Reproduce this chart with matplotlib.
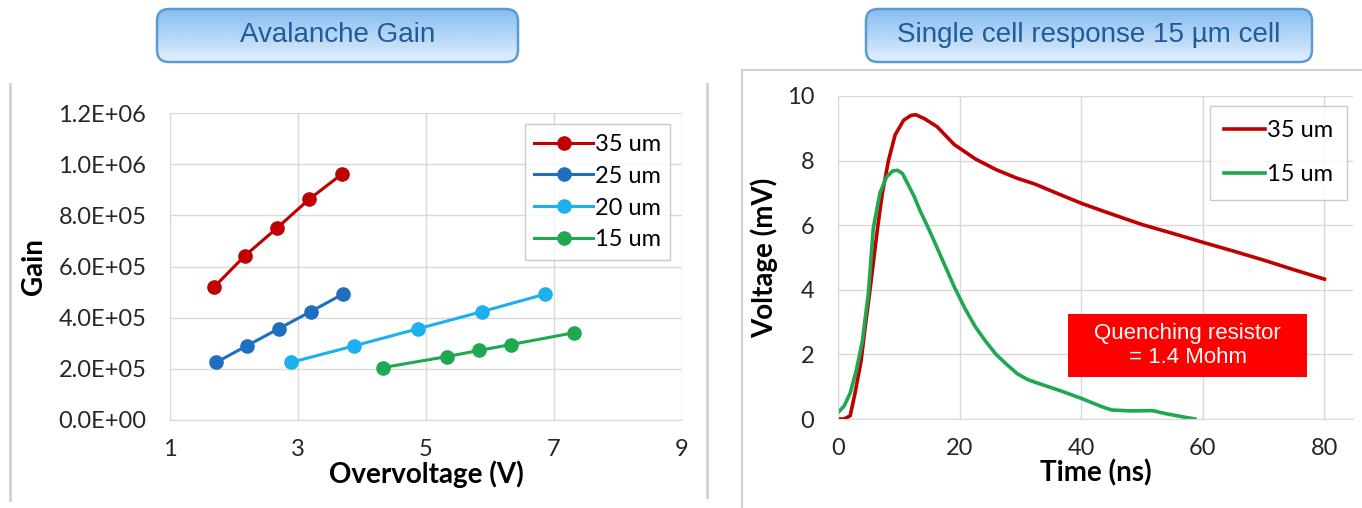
import numpy as np
import matplotlib
matplotlib.use("Agg")
import matplotlib.pyplot as plt
from matplotlib.patches import FancyBboxPatch, Rectangle
from matplotlib.lines import Line2D

plt.rcParams['font.family'] = ['Lato', 'DejaVu Sans']

# avalanche gain data
labels_gain = ["35 um", "25 um", "20 um", "15 um"]
colors_gain = ["#C00000", "#1F6FBF", "#1CB0EE", "#1FA84F"]
v35 = [1.69, 2.17, 2.67, 3.17, 3.69]
g35 = [5.2e5, 6.42e5, 7.5e5, 8.62e5, 9.62e5]
v25 = [1.72, 2.2, 2.7, 3.2, 3.7]
g25 = [2.25e5, 2.9e5, 3.57e5, 4.24e5, 4.92e5]
v20 = [2.89, 3.88, 4.88, 5.88, 6.86]
g20 = [2.25e5, 2.9e5, 3.57e5, 4.24e5, 4.92e5]
v15 = [4.33, 5.33, 5.83, 6.33, 7.31]
g15 = [2.05e5, 2.48e5, 2.72e5, 2.95e5, 3.41e5]
gain_ticks = ["0.0E+00", "2.0E+05", "4.0E+05", "6.0E+05", "8.0E+05", "1.0E+06", "1.2E+06"]

# single cell response
t35 = [0, 1, 2, 2.8, 3.8, 4.5, 5.2, 6.5, 7.3, 8.3, 9.4, 10.8, 12.0, 12.8, 14.2, 16.3,
       19.1, 22.6, 26, 29.5, 32.3, 36.5, 40, 43.4, 46, 50, 55, 60, 65, 70, 75, 80]
u35 = [0, 0, 0.1, 0.8, 1.8, 2.9, 3.9, 5.9, 7.0, 8.0, 8.8, 9.25, 9.4, 9.42, 9.3, 9.05,
       8.5, 8.05, 7.72, 7.45, 7.28, 6.95, 6.68, 6.45, 6.28, 6.02, 5.75, 5.47, 5.2, 4.92, 4.62, 4.33]
t15 = [0, 1, 2, 3, 4, 5, 5.8, 6.9, 8, 9, 9.8, 10.6, 11.5, 12.5, 13.5, 15, 16.3, 17.7, 19.1,
       20.8, 22.6, 24.3, 26, 27.8, 29.5, 31.2, 33, 36.5, 40, 43.4, 45, 48, 51.7, 53.8, 56.6, 58.7]
u15 = [0.2, 0.4, 0.8, 1.5, 2.4, 3.9, 5.9, 7.0, 7.5, 7.68, 7.7, 7.6, 7.27, 6.9, 6.45, 5.85, 5.3,
       4.7, 4.1, 3.45, 2.85, 2.4, 2.0, 1.68, 1.4, 1.22, 1.1, 0.88, 0.64, 0.38, 0.28, 0.25, 0.26,
       0.17, 0.07, 0.0]

W, H = 1362, 508
fig = plt.figure(figsize=(W / 100, H / 100), dpi=100)

def fx(px):
    return px / W

def fy(py):
    return 1 - py / H

grid_c = "#D9D9D9"
tick_fs = 17
lab_fs = 20

# frame lines like the slide
fig.add_artist(Line2D([fx(10), fx(10)], [fy(84), fy(500)], color="#D0D0D0", lw=2))
fig.add_artist(Line2D([fx(707), fx(707)], [fy(84), fy(497)], color="#D0D0D0", lw=2))
fig.add_artist(Rectangle((fx(742), fy(512)), fx(640), fy(70) - fy(512), fill=False,
                         edgecolor="#D0D0D0", lw=1.5))

def title_box(x0, x1, y0, y1, text):
    ax = fig.add_axes([fx(x0 - 3), fy(y1 + 3), fx(x1 - x0 + 6), fy(y0 - 3) - fy(y1 + 3)])
    ax.axis("off")
    grad = np.linspace(0, 1, 100).reshape(-1, 1)
    cmap = matplotlib.colors.LinearSegmentedColormap.from_list("b", ["#86BDF0", "#E2EFFC"])
    box = FancyBboxPatch((x0, y0), x1 - x0, y1 - y0, boxstyle="round,pad=0,rounding_size=12",
                         facecolor="none", edgecolor="#5B9BD5", lw=1.8)
    im = ax.imshow(grad, extent=[x0, x1, y1, y0], cmap=cmap, aspect="auto")
    ax.add_patch(box)
    im.set_clip_path(box)
    ax.set_xlim(x0 - 3, x1 + 3)
    ax.set_ylim(y1 + 3, y0 - 3)
    ax.text((x0 + x1) / 2, (y0 + y1) / 2, text, ha="center", va="center", fontsize=20,
            color="#1F5C99", family="Liberation Sans")

title_box(157, 518, 9, 62, "Avalanche Gain")
title_box(866, 1312, 9, 62, "Single cell response 15 µm cell")

def style(ax):
    ax.grid(True, color=grid_c, lw=1)
    ax.set_axisbelow(True)
    for s in ax.spines.values():
        s.set_visible(False)
    ax.spines["bottom"].set_visible(True)
    ax.spines["bottom"].set_color(grid_c)
    ax.spines["left"].set_visible(True)
    ax.spines["left"].set_color(grid_c)
    ax.tick_params(length=0, labelsize=tick_fs, colors="#262626")
    ax.tick_params(axis="y", pad=17)
    ax.tick_params(axis="x", pad=14)

# left: gain vs overvoltage
ax1 = fig.add_axes([fx(170), fy(420), fx(682 - 170), fy(113) - fy(420)])
for v, g, lab, c in zip([v35, v25, v20, v15], [g35, g25, g20, g15], labels_gain, colors_gain):
    ax1.plot(v, g, "-o", color=c, lw=2.2, ms=9.5, label=lab)
ax1.set_xlim(1, 9)
ax1.set_ylim(0, 1.2e6)
ax1.set_xticks([1, 3, 5, 7, 9])
ax1.set_yticks(np.linspace(0, 1.2e6, len(gain_ticks)))
ax1.set_yticklabels(gain_ticks)
style(ax1)
ax1.set_xlabel("Overvoltage (V)", fontsize=lab_fs, fontweight="bold", labelpad=0)
ax1.set_ylabel("Gain", fontsize=lab_fs, fontweight="bold", labelpad=8)
leg1 = ax1.legend(loc="upper right", bbox_to_anchor=(0.977, 0.963), fontsize=17, frameon=True,
                  fancybox=False, edgecolor="#BFBFBF", handlelength=2.5, handletextpad=0.05,
                  labelspacing=0.46, borderpad=0.4, borderaxespad=0)
leg1.get_frame().set_linewidth(1)

# right: single cell response
ax2 = fig.add_axes([fx(838), fy(419), fx(1353 - 838), fy(96) - fy(419)])
ax2.plot(t35, u35, color="#C00000", lw=2.6, label="35 um")
ax2.plot(t15, u15, color="#1FA84F", lw=2.6, label="15 um")
ax2.set_xlim(0, 84.7)
ax2.set_ylim(0, 10)
ax2.set_xticks([0, 20, 40, 60, 80])
ax2.set_yticks([0, 2, 4, 6, 8, 10])
style(ax2)
ax2.set_xlabel("Time (ns)", fontsize=lab_fs, fontweight="bold", labelpad=0)
ax2.set_ylabel("Voltage (mV)", fontsize=lab_fs, fontweight="bold", labelpad=6)
leg2 = ax2.legend(loc="upper right", bbox_to_anchor=(0.988, 0.97), fontsize=17, frameon=True,
                  fancybox=False, edgecolor="#BFBFBF", handlelength=1.75, handletextpad=0.05,
                  labelspacing=1.0, borderpad=0.6, borderaxespad=0)
leg2.get_frame().set_linewidth(1)

ax2.add_patch(Rectangle((37.9, 1.3), 77.2 - 37.9, 3.25 - 1.3, facecolor="#FF0000",
                        edgecolor="none", zorder=3))
ax2.text(57.5, 2.28, "Quenching resistor\n= 1.4 Mohm", ha="center", va="center", fontsize=16,
         color="white", family="Liberation Sans", linespacing=1.15, zorder=4)

fig.savefig("out.png", dpi=100)
